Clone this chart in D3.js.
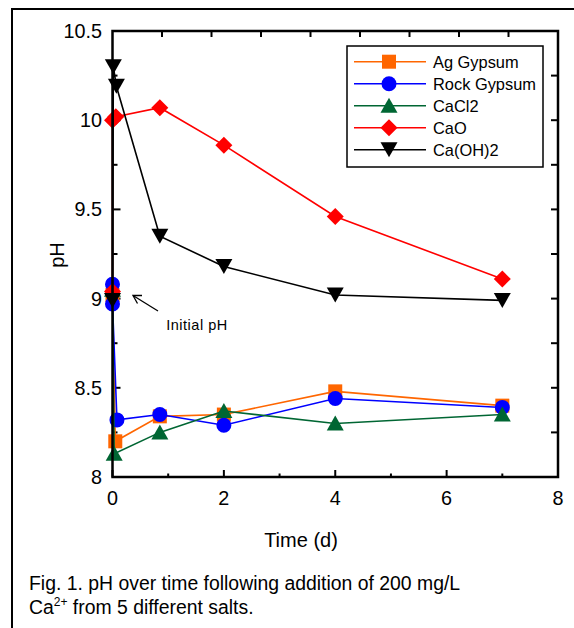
<!DOCTYPE html>
<html><head><meta charset="utf-8">
<script src="https://cdn.jsdelivr.net/npm/d3@7"></script>
<style>
html,body{margin:0;padding:0;background:#fff;}
svg{display:block;font-family:"Liberation Sans",Arial,sans-serif;}
</style></head>
<body>
<svg id="chart" width="574" height="628"></svg>
<script>
// ---- data ----
const seriesNames = ["Ag Gypsum", "Rock Gypsum", "CaCl2", "CaO", "Ca(OH)2"];
const agTime = [0, 0.05, 0.85, 2, 4, 7];
const agPH   = [9.02, 8.20, 8.34, 8.35, 8.48, 8.40];
const rockTime = [0, 0, 0.08, 0.85, 2, 4, 7];
const rockPH   = [9.08, 8.97, 8.32, 8.35, 8.29, 8.44, 8.39];
const caclTime = [0, 0.03, 0.85, 2, 4, 7];
const caclPH   = [9.05, 8.13, 8.25, 8.37, 8.30, 8.35];
const caoTime = [0, 0, 0.06, 0.85, 2, 4, 7];
const caoPH   = [9.04, 10.00, 10.02, 10.07, 9.86, 9.46, 9.11];
const cohTime = [0, 0.015, 0.07, 0.85, 2, 4, 7];
const cohPH   = [8.99, 10.30, 10.19, 9.35, 9.18, 9.02, 8.99];
const xTicks = [0, 2, 4, 6, 8];
const xMinorTicks = [1, 3, 5, 7];
const yTicks = [8, 8.5, 9, 9.5, 10, 10.5];
const yTickLabels = ["8", "8.5", "9", "9.5", "10", "10.5"];
const yMinorTicks = [8.25, 8.75, 9.25, 9.75, 10.25];
const colors = ["#FF6600", "#0000FF", "#006633", "#FF0000", "#000000"];
const shapes = ["square", "circle", "triangle", "diamond", "triangleDown"];

const allSeries = [
  {name: seriesNames[0], t: agTime, v: agPH},
  {name: seriesNames[1], t: rockTime, v: rockPH},
  {name: seriesNames[2], t: caclTime, v: caclPH},
  {name: seriesNames[3], t: caoTime, v: caoPH},
  {name: seriesNames[4], t: cohTime, v: cohPH}
];

// ---- layout ----
const svg = d3.select("#chart");
const L = 112.5, R = 558, T = 31, B = 477;
const x = d3.scaleLinear().domain([0, 8]).range([L, R]);
const y = d3.scaleLinear().domain([8, 10.5]).range([B, T]);
const xTop = d3.scaleLinear().domain([0, 9]).range([L, R]);

// outer border
svg.append("rect").attr("x", 12).attr("y", 9).attr("width", 700).attr("height", 700)
  .attr("fill", "none").attr("stroke", "#000").attr("stroke-width", 2);

// ticks
const tg = svg.append("g").attr("stroke", "#000").attr("stroke-width", 2);
xTicks.forEach(t => tg.append("line").attr("x1", x(t)).attr("x2", x(t)).attr("y1", B).attr("y2", B - 7));
xMinorTicks.forEach(t => tg.append("line").attr("x1", x(t)).attr("x2", x(t)).attr("y1", B).attr("y2", B - 3.5));
d3.range(1, 9).forEach(t => tg.append("line").attr("x1", xTop(t)).attr("x2", xTop(t)).attr("y1", T).attr("y2", T + 6));
yTicks.forEach(v => tg.append("line").attr("x1", L).attr("x2", L + 8).attr("y1", y(v)).attr("y2", y(v)));
yMinorTicks.forEach(v => tg.append("line").attr("x1", L).attr("x2", L + 5).attr("y1", y(v)).attr("y2", y(v)));
yTicks.concat(yMinorTicks).forEach(v => tg.append("line").attr("x1", R).attr("x2", R - 7).attr("y1", y(v)).attr("y2", y(v)));

// tick labels
xTicks.forEach(t => svg.append("text").attr("x", x(t)).attr("y", 505).attr("text-anchor", "middle")
  .attr("font-size", 19.8).text(t));
yTicks.forEach((v, i) => svg.append("text").attr("x", 102).attr("y", y(v) + 7).attr("text-anchor", "end")
  .attr("font-size", 19.8).text(yTickLabels[i]));

// axis titles
svg.append("text").attr("x", 301).attr("y", 547).attr("text-anchor", "middle").attr("font-size", 20).text("Time (d)");
svg.append("text").attr("transform", "translate(64,255) rotate(-90)").attr("text-anchor", "middle")
  .attr("font-size", 20).text("pH");

// symbol drawing
function symbolPath(shape, cx, cy) {
  switch (shape) {
    case "square": return `M${cx-7},${cy-7}h14v14h-14Z`;
    case "circle": return `M${cx-7.5},${cy}a7.5,7.5 0 1,0 15,0a7.5,7.5 0 1,0 -15,0Z`;
    case "triangle": return `M${cx},${cy-8}L${cx+8.5},${cy+7}L${cx-8.5},${cy+7}Z`;
    case "triangleDown": return `M${cx-8.5},${cy-7.5}L${cx+8.5},${cy-7.5}L${cx},${cy+7.5}Z`;
    case "diamond": return `M${cx},${cy-8.5}L${cx+8.5},${cy}L${cx},${cy+8.5}L${cx-8.5},${cy}Z`;
  }
}

const line = d3.line().x(d => x(d[0])).y(d => y(d[1]));
allSeries.forEach((s, i) => {
  const pts = s.t.map((t, j) => [t, s.v[j]]);
  const g = svg.append("g");
  g.append("path").attr("d", line(pts)).attr("fill", "none").attr("stroke", colors[i]).attr("stroke-width", 1.6);
  pts.forEach(p => g.append("path").attr("d", symbolPath(shapes[i], x(p[0]), y(p[1]))).attr("fill", colors[i]));
});

// frame
svg.append("rect").attr("x", L).attr("y", T).attr("width", R - L).attr("height", B - T)
  .attr("fill", "none").attr("stroke", "#000").attr("stroke-width", 2.5);

// annotation
svg.append("text").attr("x", 197).attr("y", 330).attr("text-anchor", "middle").attr("font-size", 14.5)
  .attr("letter-spacing", 0.5).text("Initial pH");
svg.append("line").attr("x1", 158).attr("y1", 311).attr("x2", 133).attr("y2", 295.5)
  .attr("stroke", "#000").attr("stroke-width", 1.3);
svg.append("path").attr("d", "M142,295.5L133,295.5L137.5,303.5").attr("fill", "none")
  .attr("stroke", "#000").attr("stroke-width", 1.3);

// legend
const lg = svg.append("g");
lg.append("rect").attr("x", 347).attr("y", 46).attr("width", 196).attr("height", 121)
  .attr("fill", "#fff").attr("stroke", "#000").attr("stroke-width", 1.5);
seriesNames.forEach((n, i) => {
  const cy = 61.7 + i * 22;
  lg.append("line").attr("x1", 354).attr("x2", 426).attr("y1", cy).attr("y2", cy)
    .attr("stroke", colors[i]).attr("stroke-width", 1.6);
  lg.append("path").attr("d", symbolPath(shapes[i], 389, cy)).attr("fill", colors[i]);
  lg.append("text").attr("x", 433).attr("y", cy + 6).attr("font-size", 16.4).text(n);
});

// caption
const cap = svg.append("text").attr("font-size", 19.4);
cap.append("tspan").attr("x", 29).attr("y", 590).text("Fig. 1. pH over time following addition of 200 mg/L");
const l2 = svg.append("text").attr("font-size", 19.4).attr("x", 29).attr("y", 614);
l2.append("tspan").text("Ca");
l2.append("tspan").attr("font-size", 12).attr("dy", -8).text("2+");
l2.append("tspan").attr("dy", 8).text(" from 5 different salts.");
</script>
</body></html>
